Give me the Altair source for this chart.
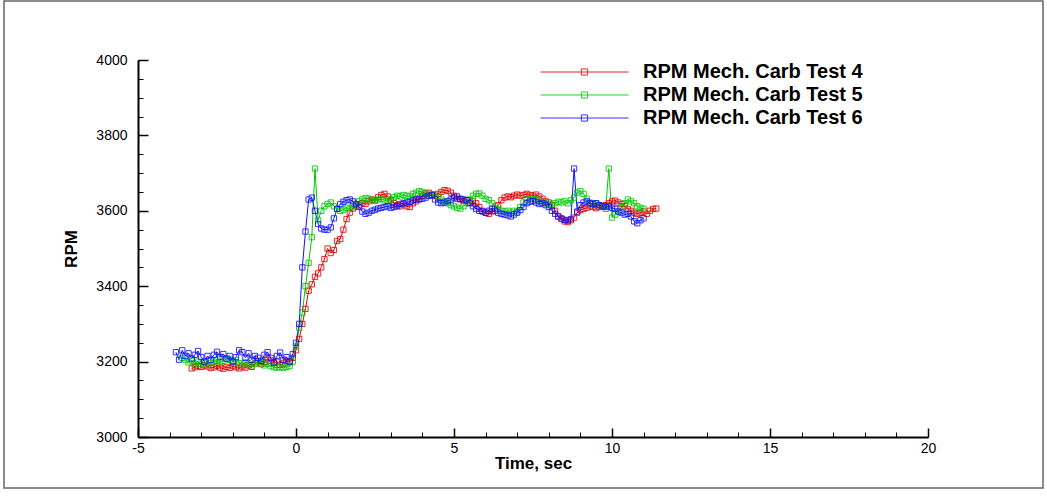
import altair as alt
import pandas as pd

SERIES = ["RPM Mech. Carb Test 4", "RPM Mech. Carb Test 5", "RPM Mech. Carb Test 6"]
COLORS = ["#e00000", "#00c800", "#1010ff"]
STEP = 0.1
START = [-3.3, -3.6, -3.8]

RPM4 = [
    3182, 3185, 3188, 3186, 3190, 3187, 3183, 3185, 3189, 3184,
    3181, 3186, 3183, 3188, 3185, 3182, 3187, 3184, 3190, 3186,
    3195, 3200, 3193, 3198, 3208, 3203, 3196, 3200, 3192, 3195,
    3202, 3198, 3210, 3230, 3260, 3300, 3340, 3388, 3405, 3425,
    3434, 3450, 3472, 3500, 3488, 3496, 3520, 3525, 3550, 3578,
    3595, 3606, 3612, 3615, 3620, 3618, 3625, 3630, 3628, 3636,
    3642, 3645, 3638, 3628, 3620, 3615, 3612, 3617, 3612, 3610,
    3620, 3625, 3632, 3640, 3646, 3648, 3642, 3640, 3645, 3650,
    3655, 3653, 3648, 3640, 3632, 3630, 3626, 3628, 3622, 3625,
    3620, 3610, 3600, 3595, 3592, 3598, 3605, 3615, 3628, 3635,
    3638, 3636, 3640, 3643, 3640, 3642, 3645, 3642, 3640, 3643,
    3638, 3632, 3625, 3622, 3615, 3600, 3585, 3578, 3572, 3570,
    3575, 3582, 3595, 3602, 3605, 3608, 3612, 3610, 3607, 3610,
    3612, 3615, 3620, 3625, 3627, 3622, 3618, 3612, 3605, 3600,
    3595, 3592, 3595, 3598, 3592, 3600, 3605, 3606,
]
RPM5 = [
    3210, 3205, 3198, 3202, 3195, 3200, 3194, 3198, 3192, 3196,
    3200, 3205, 3198, 3202, 3207, 3205, 3200, 3203, 3196, 3192,
    3198, 3195, 3190, 3194, 3200, 3196, 3190, 3194, 3188, 3185,
    3184, 3186, 3183, 3186, 3188, 3200, 3240, 3290, 3330, 3400,
    3462, 3530, 3712, 3575, 3600, 3612, 3618, 3622, 3612, 3605,
    3600, 3603, 3608, 3606, 3612, 3618, 3625, 3630, 3634, 3632,
    3628, 3626, 3630, 3632, 3628, 3625, 3630, 3636, 3640, 3638,
    3642, 3640, 3638, 3645, 3648, 3652, 3650, 3646, 3640, 3643,
    3644, 3635, 3630, 3625, 3620, 3615, 3612, 3608, 3606, 3612,
    3620, 3630, 3640, 3645, 3646, 3640, 3632, 3628, 3620, 3612,
    3605, 3600, 3598, 3600, 3595, 3600, 3598, 3610, 3622, 3630,
    3633, 3632, 3630, 3628, 3622, 3620, 3618, 3616, 3620, 3624,
    3622, 3625, 3620, 3628, 3635, 3648, 3652, 3645, 3632, 3622,
    3618, 3620, 3615, 3612, 3605, 3712, 3582, 3590, 3598, 3610,
    3620, 3630, 3625, 3620, 3612, 3608, 3605,
]
RPM6 = [
    3225, 3205, 3230, 3215, 3222, 3208, 3218, 3228, 3212, 3200,
    3215, 3205, 3218, 3226, 3212, 3220, 3208, 3215, 3200, 3212,
    3230, 3225, 3210, 3222, 3205, 3215, 3210, 3202, 3218, 3225,
    3210, 3198, 3215, 3224, 3205, 3212, 3200, 3220, 3250, 3300,
    3450, 3545, 3630, 3635, 3600, 3565, 3553, 3550, 3550, 3556,
    3580, 3605, 3618, 3624, 3628, 3630, 3625, 3618, 3610, 3598,
    3592, 3595, 3600, 3603, 3606, 3608, 3610, 3612, 3608, 3610,
    3612, 3618, 3620, 3622, 3624, 3628, 3630, 3630, 3632, 3635,
    3640, 3642, 3630, 3622, 3620, 3622, 3626, 3630, 3635, 3638,
    3632, 3630, 3628, 3620, 3612, 3605, 3600, 3598, 3595, 3600,
    3605, 3600, 3595, 3592, 3590, 3588, 3585, 3590, 3595, 3602,
    3610, 3620, 3624, 3626, 3622, 3618, 3620, 3615, 3610, 3600,
    3592, 3585, 3580, 3576, 3574, 3578, 3712, 3598, 3615, 3622,
    3625, 3620, 3618, 3620, 3615, 3612, 3610, 3612, 3608, 3605,
    3598, 3595, 3590, 3592, 3585, 3572, 3567, 3575, 3580,
]

X_MAJOR = [-5, 0, 5, 10, 15, 20]
X_MINOR = [-5, -4, -3, -2, -1, 0, 1, 2, 3, 4, 5, 6, 7, 8, 9, 10, 11, 12, 13, 14,
           15, 16, 17, 18, 19, 20]
Y_MAJOR = [3000, 3200, 3400, 3600, 3800, 4000]
Y_MINOR = [3000, 3050, 3100, 3150, 3200, 3250, 3300, 3350, 3400, 3450, 3500,
           3550, 3600, 3650, 3700, 3750, 3800, 3850, 3900, 3950, 4000]

rows = []
for name, start, vals in zip(SERIES, START, [RPM4, RPM5, RPM6]):
    for i, v in enumerate(vals):
        rows.append({"series": name, "t": round(start + i * STEP, 2), "rpm": v})
df = pd.DataFrame(rows)

FONT = "Liberation Sans"
x_scale = alt.Scale(domain=[-5, 20], nice=False, zero=False)
y_scale = alt.Scale(domain=[3000, 4000], nice=False, zero=False)

LEG_PATH = "M-1,0L1,0M-0.07,-0.07L0.07,-0.07L0.07,0.07L-0.07,0.07Z"
legend = alt.Legend(
    title=None, orient="none", legendX=402, legendY=0.5,
    symbolType=LEG_PATH, symbolSize=7744, symbolStrokeWidth=1,
    clipHeight=23, rowPadding=0, padding=0,
    labelFont=FONT, labelFontSize=20, labelFontWeight="bold",
    labelColor="black", labelOffset=14, labelLimit=400,
)
color = alt.Color("series:N", scale=alt.Scale(domain=SERIES, range=COLORS),
                  legend=legend)

PLAIN = "'' + datum.value"
x_major = alt.Axis(orient="bottom", values=X_MAJOR, tickSize=9, offset=-9,
                   tickWidth=1.5, tickColor="black", domain=False, grid=False,
                   labelFont=FONT, labelFontSize=14, labelColor="black",
                   labelPadding=4, labelFlush=False, labelExpr=PLAIN,
                   title="Time, sec", titleFont=FONT, titleFontSize=17,
                   titleFontWeight="bold", titleColor="black", titlePadding=0)
y_major = alt.Axis(orient="left", values=Y_MAJOR, tickSize=10, offset=-10,
                   tickWidth=1.5, tickColor="black", domain=False, grid=False,
                   labelFont=FONT, labelFontSize=14, labelColor="black",
                   labelPadding=11, labelFlush=False, labelExpr=PLAIN,
                   title="RPM", titleFont=FONT, titleFontSize=17,
                   titleFontWeight="bold", titleColor="black", titlePadding=15)
x_minor = alt.Axis(orient="bottom", values=X_MINOR, tickSize=5, offset=-5,
                   tickWidth=1, tickColor="black", domain=False, grid=False,
                   labels=False, title=None)
y_minor = alt.Axis(orient="left", values=Y_MINOR, tickSize=5, offset=-5,
                   tickWidth=1, tickColor="black", domain=False, grid=False,
                   labels=False, title=None)
x_dom = alt.Axis(orient="bottom", ticks=False, labels=False, grid=False,
                 domain=True, domainColor="black", domainWidth=2, title=None)
y_dom = alt.Axis(orient="left", ticks=False, labels=False, grid=False,
                 domain=True, domainColor="black", domainWidth=2, title=None)

frame = alt.Chart(pd.DataFrame({"k": [0]})).mark_rect(
    fillOpacity=0, stroke="#666666", strokeWidth=1.5, clip=False
).encode(x=alt.value(-134), x2=alt.value(905), y=alt.value(-59), y2=alt.value(428))

lines = alt.Chart(df).mark_line(strokeWidth=1).encode(
    x=alt.X("t:Q", scale=x_scale, axis=x_major),
    y=alt.Y("rpm:Q", scale=y_scale, axis=y_major),
    color=color,
)
points = alt.Chart(df).mark_point(shape="square", filled=False, size=28,
                                  strokeWidth=1, opacity=0.85).encode(
    x=alt.X("t:Q", scale=x_scale, axis=x_minor),
    y=alt.Y("rpm:Q", scale=y_scale, axis=y_minor),
    color=color,
)
dom = alt.Chart(df).mark_point(opacity=0).encode(
    x=alt.X("t:Q", scale=x_scale, axis=x_dom),
    y=alt.Y("rpm:Q", scale=y_scale, axis=y_dom),
)

chart = alt.layer(frame, lines, points, dom).resolve_axis(
    x="independent", y="independent"
).properties(
    width=790, height=377,
    padding={"left": 138, "top": 60, "right": 119, "bottom": 59},
    autosize=alt.AutoSizeParams(type="none"),
    background="white",
).configure_view(strokeWidth=0)

chart.save("out.html", embed_options={"renderer": "svg", "actions": False})
